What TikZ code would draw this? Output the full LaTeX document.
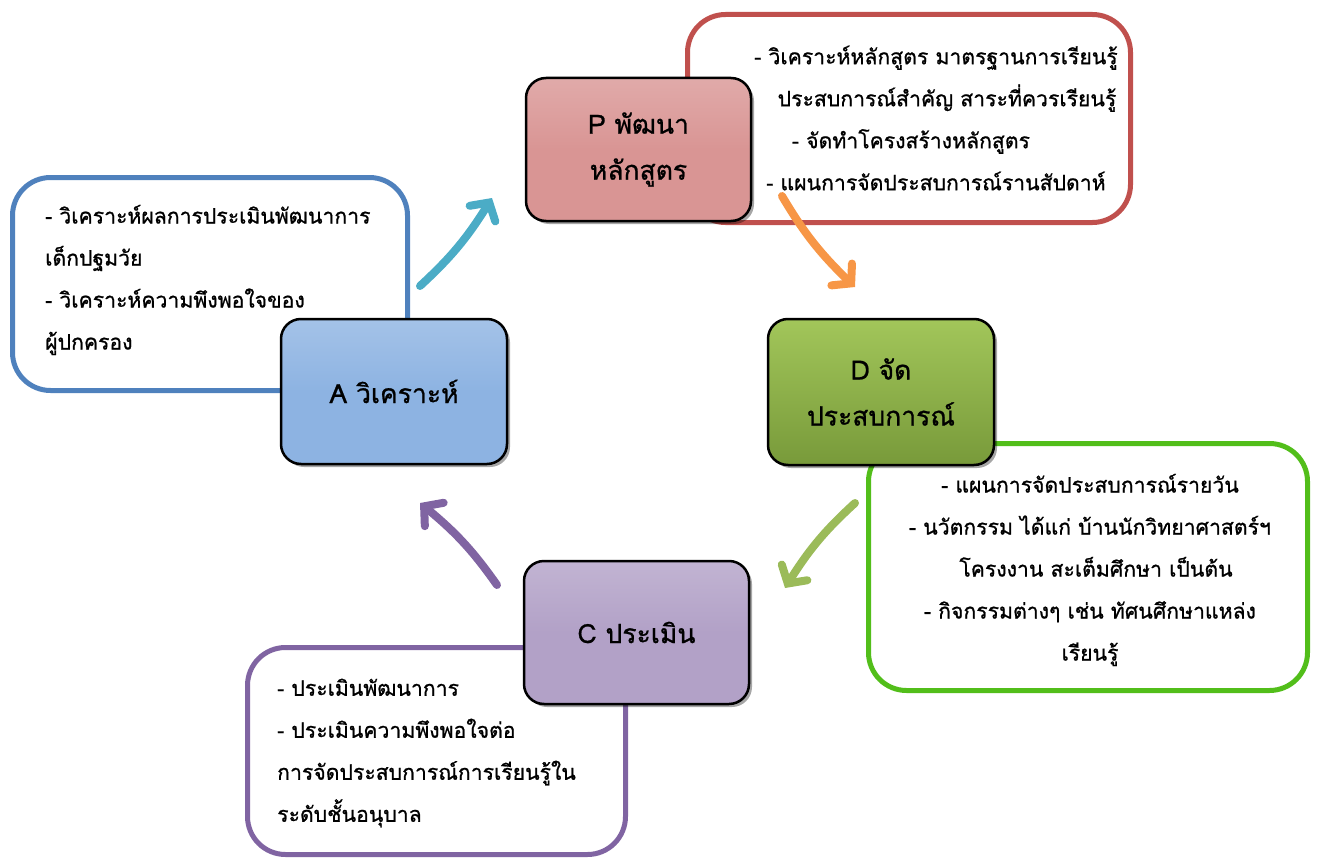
\documentclass[tikz,border=0pt]{standalone}
\usepackage{fontspec}
\setmainfont[Script=Thai,FakeBold=0.9]{Loma}
\usetikzlibrary{arrows.meta,shadows,bending}
\definecolor{redline}{HTML}{C0504D}
\definecolor{blueline}{HTML}{4F81BD}
\definecolor{greenline}{HTML}{52BE1A}
\definecolor{purpleline}{HTML}{8064A2}
\definecolor{pfill}{HTML}{D99594}
\definecolor{afill}{HTML}{8DB3E2}
\definecolor{dtop}{HTML}{A2C65A}
\definecolor{dbot}{HTML}{789A3A}
\definecolor{cfill}{HTML}{B2A1C7}
\definecolor{teal}{HTML}{4BACC6}
\definecolor{orng}{HTML}{F79646}
\definecolor{lgreen}{HTML}{9BBB59}
\tikzset{
  detail/.style={draw, line width=5pt, rounded corners=38pt, fill=white},
  stage/.style={draw=black, line width=2.5pt, rounded corners=20pt, align=center,
    font=\fontsize{26.5}{46}\selectfont, inner sep=0pt,
    drop shadow={shadow xshift=3pt, shadow yshift=-3pt, opacity=0.35, fill=black}},
  info/.style={font=\fontsize{21.2}{42}\selectfont, inner sep=0pt},
  cyc/.style={line width=8pt, line cap=round, line join=round,
    -{Straight Barb[length=13pt, width=30pt, line cap=round]}}
}
\begin{document}
\begin{tikzpicture}[x=1pt,y=-1pt]
\useasboundingbox (0,0) rectangle (1318,859);
% detail boxes
\node[detail, draw=redline, minimum width=443pt, minimum height=208pt] (pbox) at (909,118.5) {};
\node[detail, draw=blueline, minimum width=395pt, minimum height=213pt] (abox) at (210,284) {};
\node[detail, draw=greenline, minimum width=439pt, minimum height=247pt] (dbox) at (1088,567) {};
\node[detail, draw=purpleline, minimum width=378pt, minimum height=207pt] (cbox) at (436.5,751) {};
% detail texts
\node[info, align=center] (ptext) at (936,118) {- วิเคราะห์หลักสูตร มาตรฐานการเรียนรู้\\
\hspace*{22pt}ประสบการณ์สำคัญ สาระที่ควรเรียนรู้\\
\hspace*{-50pt}- จัดทำโครงสร้างหลักสูตร\\
- แผนการจัดประสบการณ์รานสัปดาห์};
\node[info, align=left, anchor=west] (atext) at (45,280) {- วิเคราะห์ผลการประเมินพัฒนาการ\\
เด็กปฐมวัย\\
- วิเคราะห์ความพึงพอใจของ\\
ผู้ปกครอง};
\node[info, align=center] (dtext) at (1090,570) {- แผนการจัดประสบการณ์รายวัน\\
- นวัตกรรม ได้แก่ บ้านนักวิทยาศาสตร์ฯ\\
\hspace*{12pt}โครงงาน สะเต็มศึกษา เป็นต้น\\
- กิจกรรมต่างๆ เช่น ทัศนศึกษาแหล่ง\\
เรียนรู้};
\node[info, align=left, anchor=west] (ctext) at (277,753) {- ประเมินพัฒนาการ\\
- ประเมินความพึงพอใจต่อ\\
การจัดประสบการณ์การเรียนรู้ใน\\
ระดับชั้นอนุบาล};
% stage nodes
\node[stage, top color=pfill!80!white, bottom color=pfill, middle color=pfill, minimum width=225pt, minimum height=143pt] (P) at (638.5,149.5) {P พัฒนา\\หลักสูตร};
\node[stage, top color=afill!80!white, bottom color=afill, middle color=afill, minimum width=226pt, minimum height=145pt] (A) at (394,391.5) {A วิเคราะห์};
\node[stage, top color=dtop, bottom color=dbot, minimum width=226pt, minimum height=146pt] (D) at (881,392) {D จัด\\ประสบการณ์};
\node[stage, top color=cfill!80!white, bottom color=cfill, middle color=cfill, minimum width=225pt, minimum height=143pt] (C) at (636.5,632.5) {C ประเมิน};
% arrows
\coordinate (a1) at (420,286); \coordinate (a2) at (492,198);
\coordinate (b1) at (782,196); \coordinate (b2) at (855,287);
\coordinate (c1) at (855,503); \coordinate (c2) at (785,588);
\coordinate (d1) at (497,585); \coordinate (d2) at (420,503);
\draw[cyc, teal] (a1) to[bend right=8] (a2);
\draw[cyc, orng] (b1) to[bend right=8] (b2);
\draw[cyc, lgreen] (c1) to[bend right=8] (c2);
\draw[cyc, purpleline] (d1) to[bend right=8] (d2);
\end{tikzpicture}
\end{document}
